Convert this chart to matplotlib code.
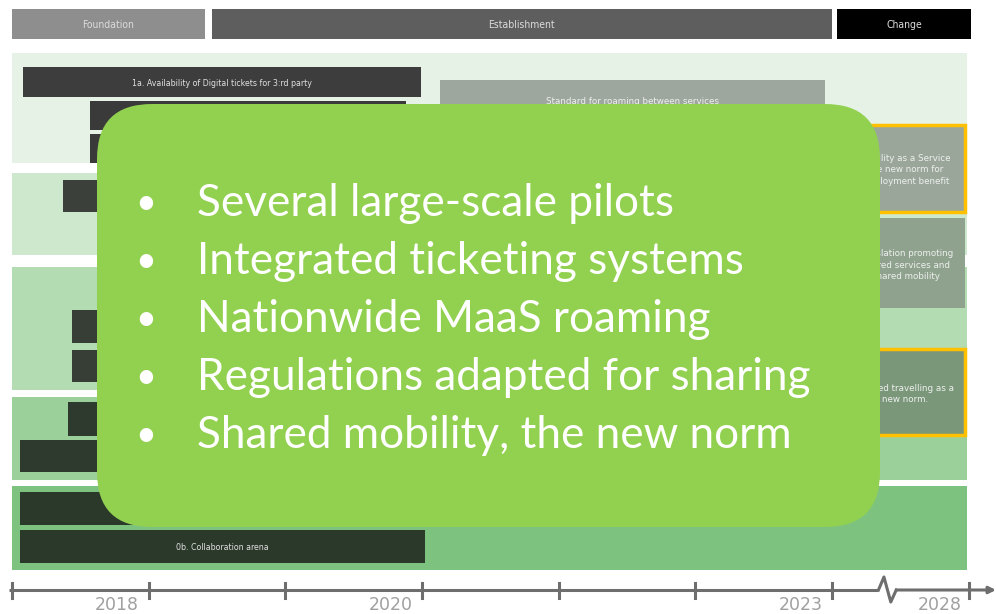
import numpy as np
import matplotlib.pyplot as plt
from matplotlib.patches import FancyBboxPatch

# phases (header row), in real years
phase_names = ['Foundation', 'Establishment', 'Change']
phase_start = [2017.0, 2018.46, 2023.2]
phase_end = [2018.41, 2023.0, 2028.07]
phase_colors = ['#8e8e8e', '#5e5e5e', '#000000']

# green theme bands
band_top = [53, 173, 267, 397, 486]
band_bottom = [163, 255, 390, 480, 570]
band_colors = ['#e5f2e5', '#cde8cd', '#b3dcb3', '#9bd09b', '#7dc37f']
band_start = 2017.0
band_end = 2027.95

# activity bars (dark)
act_labels = ['1a. Availability of Digital tickets for 3:rd party', '', '', '', '', '',
              '', '', '', '0b. Collaboration arena']
act_start = [2017.08, 2017.57, 2017.57, 2017.37, 2017.44, 2017.44, 2017.41, 2017.06, 2017.06, 2017.06]
act_end = [2019.99, 2019.88, 2019.88, 2019.5, 2019.9, 2020.3, 2019.7, 2020.0, 2020.0, 2020.02]
act_top = [67, 101, 134, 180, 310, 350, 402, 440, 492, 530]
act_bottom = [97, 130, 163, 212, 343, 382, 436, 472, 525, 563]
act_colors = ['#3d3d3d', '#3a3a3a', '#3a3a3a', '#3b403b', '#363e36', '#363e36',
              '#2f3a2f', '#2f3a2f', '#2b392b', '#2b392b']

# goal boxes (lighter)
goal_labels = ['Standard for roaming between services',
               'Mobility as a Service\nthe new norm for\nemployment benefit',
               'Legislation promoting\nshared services and\nshared mobility',
               'Shared travelling as a\nnew norm.']
goal_start = [2020.13, 2023.5, 2023.5, 2023.5]
goal_end = [2022.95, 2027.88, 2027.88, 2027.88]
goal_top = [80, 125, 218, 349]
goal_bottom = [170, 212, 308, 435]
goal_text_y = [101, 170, 265, 394]
goal_colors = ['#9ea79e', '#9aa69a', '#8ea28e', '#7a977a']
goal_border = [False, True, False, True]

# time axis
tick_years = [2017, 2018, 2019, 2020, 2021, 2022, 2023, 2028]
label_years = [2018, 2020, 2023, 2028]
break_year = 2025.0

bullets = ['Several large-scale pilots',
           'Integrated ticketing systems',
           'Nationwide MaaS roaming',
           'Regulations adapted for sharing',
           'Shared mobility, the new norm']


def fwd(x):
    x = np.asarray(x, dtype=float)
    return np.where(x <= 2023, x, 2023 + (x - 2023) / 5.0)


def inv(p):
    p = np.asarray(p, dtype=float)
    return np.where(p <= 2023, p, 2023 + (p - 2023) * 5.0)


fig = plt.figure(figsize=(9.96, 6.14), dpi=100)
ax = fig.add_axes([0, 0, 1, 1])
ax.set_xscale('function', functions=(fwd, inv))
ax.set_xlim(2016.912, 2029.0)
ax.set_ylim(614, 0)
ax.axis('off')

# header
for name, s, e, c in zip(phase_names, phase_start, phase_end, phase_colors):
    ax.barh(24, e - s, left=s, height=30, color=c)
    mid = float(inv((fwd(s) + fwd(e)) / 2))
    ax.text(mid, 25, name, ha='center', va='center', color='#dcdcdc',
            fontsize=7.5, fontstretch='condensed')

# bands
for t, b, c in zip(band_top, band_bottom, band_colors):
    ax.barh((t + b) / 2, band_end - band_start, left=band_start, height=b - t, color=c)

# activities
for lab, s, e, t, b, c in zip(act_labels, act_start, act_end, act_top, act_bottom, act_colors):
    ax.barh((t + b) / 2, e - s, left=s, height=b - t, color=c)
    if lab:
        ax.text((s + e) / 2, (t + b) / 2 + 1, lab, ha='center', va='center',
                color='#e0e0e0', fontsize=6.3, fontstretch='condensed')

# goals
for lab, s, e, t, b, ty, c, bd in zip(goal_labels, goal_start, goal_end, goal_top,
                                      goal_bottom, goal_text_y, goal_colors, goal_border):
    ax.barh((t + b) / 2, e - s, left=s, height=b - t, color=c,
            edgecolor='#ffc000' if bd else 'none', linewidth=2.5 if bd else 0)
    mid = float(inv((fwd(s) + fwd(e)) / 2))
    ax.text(mid, ty, lab, ha='center', va='center', color='#eef0ee',
            fontsize=6.3, linespacing=1.35)

# time axis
ax_y = 590
ax.plot([2016.98, break_year - 0.3], [ax_y, ax_y], color='#6e6e6e', lw=2.2,
        solid_capstyle='butt')
zig_x = [break_year - 0.3, break_year - 0.1, break_year + 0.15, break_year + 0.35]
zig_y = [ax_y, ax_y - 13, ax_y + 12, ax_y]
ax.plot(zig_x, zig_y, color='#6e6e6e', lw=2.2)
ax.annotate('', xy=(2029.0, ax_y), xytext=(break_year + 0.35, ax_y),
            arrowprops=dict(arrowstyle='-|>', color='#6e6e6e', lw=2.2,
                            mutation_scale=10, shrinkA=0, shrinkB=0))
for yr in tick_years:
    ax.plot([yr, yr], [ax_y - 7, ax_y + 8], color='#6e6e6e', lw=2.2)
for yr in label_years:
    off = 0.25 if yr == 2028 else 0.07
    ax.text(yr - off, 605, str(yr), ha='right', va='center', color='#a0a0a0',
            fontsize=12.5)

# overlay box in pixel units
ov = fig.add_axes([0, 0, 1, 1])
ov.set_xlim(0, 996)
ov.set_ylim(614, 0)
ov.axis('off')
box = FancyBboxPatch((97, 104), 783, 423, boxstyle='round,pad=0,rounding_size=55',
                     facecolor='#92d050', edgecolor='none')
ov.add_patch(box)
for i, line in enumerate(bullets):
    yy = 203 + i * 58
    ov.text(146, yy, '•', ha='center', va='center', color='white', fontsize=26,
            family='Lato')
    ov.text(197, yy, line, ha='left', va='center', color='white', fontsize=31.8,
            family='Lato')

fig.savefig('out.png', dpi=100)
